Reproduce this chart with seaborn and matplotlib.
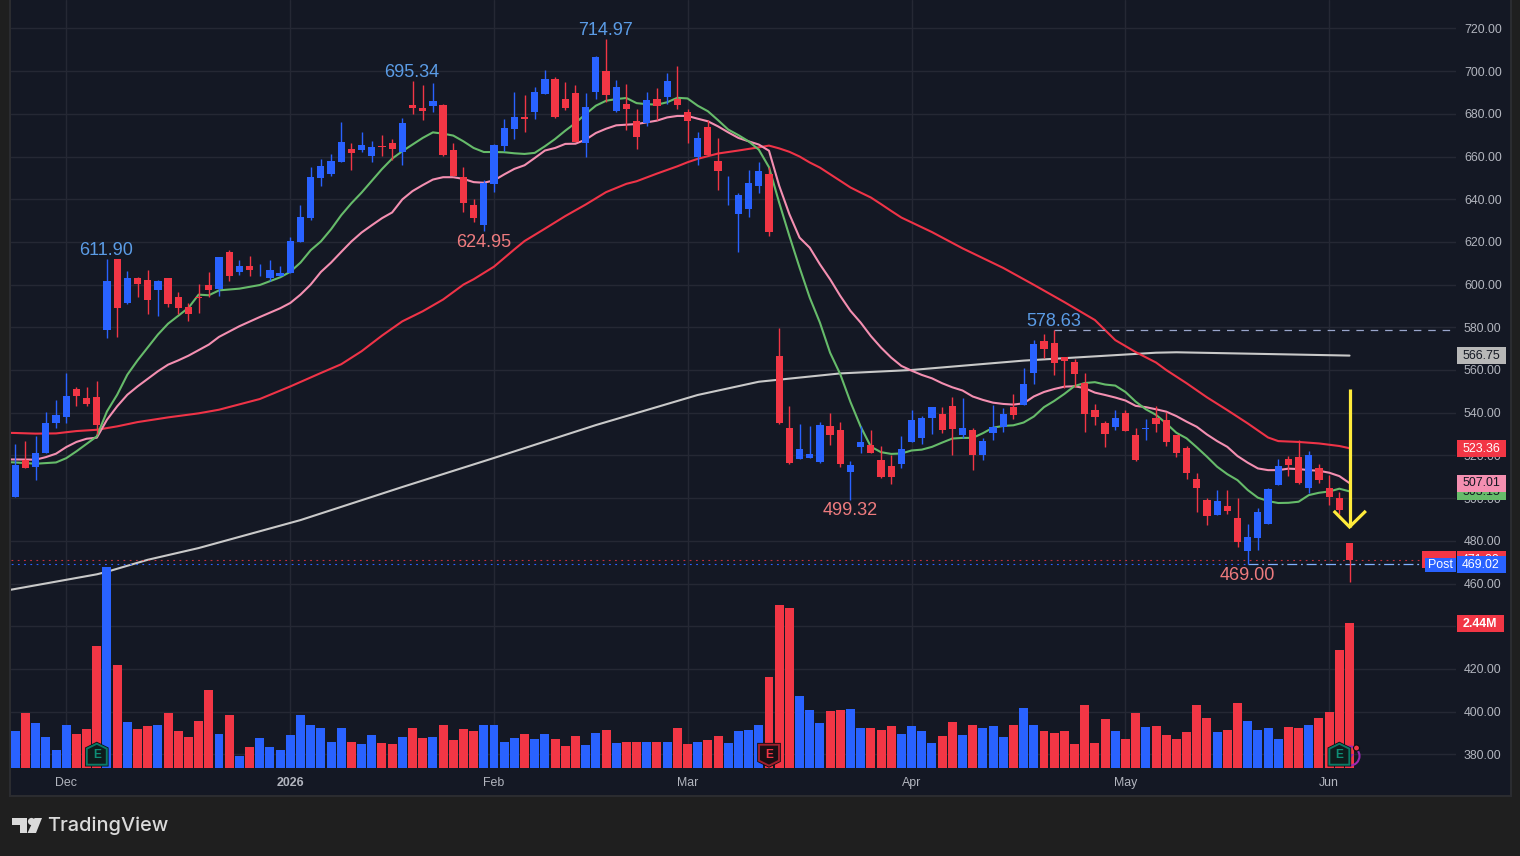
import matplotlib
matplotlib.use("Agg")
import matplotlib.pyplot as plt
from matplotlib.patches import Polygon, Rectangle, Circle
from matplotlib.transforms import IdentityTransform
import numpy as np
import pandas as pd
import seaborn as sns

# Daily sessions, oldest first
opens = [500.6,518.0,514.7,521.3,535.3,538.1,551.3,547.0,547.5,578.9,
         611.9,591.6,603.3,602.3,597.7,603.3,594.4,589.7,594.4,600.0,
         598.1,615.5,606.1,608.9,604.4,603.3,603.8,605.6,619.8,631.1,
         649.8,651.7,657.3,663.4,663.0,660.2,665.1,666.2,662.3,684.3,
         682.9,683.8,684.3,663.2,650.2,637.1,627.7,646.9,665.1,673.0,
         678.7,681.0,689.4,696.4,687.1,689.9,666.5,690.3,700.2,681.5,
         684.7,676.8,675.9,687.1,688.0,687.1,681.0,660.0,674.0,658.1,
         646.1,632.9,635.2,646.0,652.0,566.6,532.9,518.4,518.8,517.0,
         533.8,532.0,512.3,524.0,524.9,517.9,515.1,516.0,526.3,528.2,
         537.6,539.4,543.2,529.6,532.0,520.2,530.5,533.4,542.7,543.7,
         558.6,573.6,572.7,566.1,563.8,553.9,541.3,535.2,533.4,539.9,
         529.6,532.4,537.6,536.6,529.5,523.4,508.9,499.1,492.0,496.3,
         490.6,475.2,481.3,487.8,506.1,518.3,519.2,504.7,514.0,504.7,
         500.0,478.9]
highs = [525.5,526.9,529.2,540.5,546.1,558.8,552.2,552.2,555.0,611.9,
         611.9,606.6,603.7,607.0,602.3,603.3,596.7,591.6,600.5,606.1,
         613.1,616.4,611.3,613.6,609.8,611.3,608.9,622.5,637.2,655.0,
         658.8,661.1,676.1,666.3,671.4,667.2,670.0,668.0,678.2,695.34,
         693.6,694.5,684.7,666.5,655.3,640.3,648.8,666.0,677.7,690.3,
         688.9,692.7,700.6,697.4,695.0,693.6,689.9,707.2,714.97,696.0,
         694.1,682.4,690.3,692.2,699.2,702.5,682.4,671.7,677.3,668.8,
         651.1,642.7,653.9,657.6,655.3,579.7,543.2,534.8,533.8,535.7,
         539.9,535.7,517.4,533.8,532.0,524.5,520.2,529.1,541.3,538.5,
         542.7,542.7,547.4,546.9,532.9,528.2,543.7,542.2,548.8,561.0,
         574.1,576.9,578.63,566.1,565.2,558.6,544.1,536.2,541.3,541.3,
         532.9,537.1,543.2,540.3,529.5,524.4,511.7,500.0,503.8,503.8,
         500.0,487.8,495.3,504.7,518.3,519.7,527.2,522.0,515.9,510.8,
         502.8,478.9]
lows = [500.3,513.9,508.6,521.3,533.0,535.3,543.3,543.3,530.2,575.2,
        575.6,591.1,594.4,586.4,585.5,589.7,586.0,583.1,586.9,594.4,
        594.8,601.9,604.7,604.2,603.8,601.9,603.8,605.6,619.8,630.2,
        646.1,650.8,657.3,653.6,662.0,657.3,660.4,658.2,656.2,680.1,
        677.3,681.0,660.4,651.1,633.8,629.1,624.95,643.6,662.8,668.4,
        671.7,677.7,689.4,678.2,681.9,667.0,660.0,687.1,685.7,681.0,
        672.6,663.7,674.5,677.3,684.7,682.4,666.5,655.8,660.4,644.5,
        637.5,615.1,631.5,643.1,622.6,534.8,516.0,518.4,518.8,516.5,
        524.9,514.6,499.32,521.2,521.2,509.5,506.7,514.2,526.3,525.4,
        530.1,530.5,520.2,528.2,513.2,517.9,527.3,531.0,537.1,543.7,
        553.5,565.6,557.7,551.6,552.0,531.0,534.3,524.0,532.0,531.5,
        517.4,527.3,531.0,524.4,519.2,508.9,493.4,487.3,492.0,492.5,
        477.0,469.00,475.6,487.8,506.1,510.3,506.6,502.3,507.0,496.7,
        492.5,460.6]
closes = [515.5,514.2,521.3,535.3,539.0,548.0,548.0,544.2,534.1,601.9,
          589.2,603.3,600.5,593.0,601.9,591.1,589.2,586.0,593.9,597.7,
          613.1,603.8,608.9,607.0,604.7,607.0,605.2,620.2,631.6,650.3,
          655.5,657.8,666.7,661.6,665.3,664.4,664.6,663.3,675.9,682.9,
          681.5,686.1,660.9,651.1,638.0,631.0,647.7,665.6,673.5,678.7,
          677.7,690.3,696.4,678.7,682.9,667.0,683.3,706.7,688.9,692.7,
          682.4,669.3,686.6,683.8,695.5,684.3,676.8,668.8,660.9,653.4,
          646.4,642.2,647.4,653.0,624.5,535.2,516.5,523.1,520.7,534.3,
          529.6,516.0,515.6,526.3,521.2,510.0,510.0,523.1,536.6,537.6,
          542.7,532.0,532.4,532.9,520.2,526.8,533.4,539.4,539.0,553.5,
          572.2,569.9,563.3,564.2,558.2,539.4,538.0,530.1,537.6,531.5,
          517.9,532.9,534.8,526.3,521.1,511.7,504.7,491.6,498.6,493.9,
          479.4,481.7,493.4,504.2,515.0,515.5,507.0,520.2,508.4,500.5,
          494.4,471.0]
# Share volume in millions
volumes = [0.63,0.92,0.75,0.52,0.30,0.72,0.57,0.65,2.06,3.38,
           1.74,0.77,0.65,0.70,0.72,0.92,0.63,0.52,0.79,1.32,
           0.58,0.90,0.21,0.36,0.50,0.35,0.30,0.55,0.90,0.72,
           0.67,0.43,0.67,0.43,0.40,0.55,0.42,0.40,0.53,0.67,
           0.50,0.53,0.73,0.47,0.65,0.63,0.73,0.72,0.44,0.50,
           0.57,0.49,0.57,0.49,0.37,0.54,0.39,0.59,0.64,0.42,
           0.44,0.44,0.44,0.44,0.44,0.67,0.40,0.44,0.47,0.54,
           0.42,0.62,0.64,0.72,1.53,2.74,2.69,1.21,0.98,0.76,
           0.96,0.98,0.99,0.67,0.67,0.64,0.71,0.57,0.71,0.62,
           0.42,0.54,0.77,0.56,0.72,0.67,0.71,0.52,0.72,1.01,
           0.72,0.62,0.59,0.62,0.40,1.06,0.42,0.82,0.62,0.49,
           0.93,0.69,0.71,0.56,0.49,0.61,1.06,0.84,0.61,0.64,
           1.09,0.79,0.64,0.67,0.49,0.69,0.67,0.72,0.84,0.94,1.99,2.44]

# Moving averages, sampled at the sessions where they bend
fast_bars = [-1,0,2,4,5,6,8,9,10,11,12,14,15,17,18,19,20,22,24,26,27,28,29,30,31,32,33,34,35,36,37,38,39,40,41,42,43,44,45,46,47,48,49,50,51,52,53,54,55,56,57,58,59,60,61,62,63,64,65,66,67,68,69,70,71,72,73,74,75,76,77,78,79,80,81,82,83,84,85,86,87,88,89,90,91,92,93,94,95,96,97,98,99,100,101,102,103,104,105,106,107,108,109,110,111,112,113,114,115,116,117,118,119,120,121,122,123,124,125,126,127,128,129,130,131]
fast_vals = [516.9,516.7,516.1,516.7,518.7,521.9,528.9,540.6,548.4,557.8,564.5,576.6,581.7,589.1,595.3,595.0,597.3,598.1,599.8,603.4,606.0,610.3,616.1,620.2,625.9,632.5,638.1,643.1,648.6,654.1,659.0,662.5,665.6,668.7,671.3,670.7,669.8,667.1,664.0,662.1,662.1,662.0,661.5,661.2,661.7,664.8,668.2,672.1,675.7,679.9,683.8,686.1,686.9,687.4,685.0,684.5,684.3,685.4,687.5,687.2,683.8,681.2,677.0,672.6,670.0,667.1,663.2,655.0,638.4,622.8,608.0,593.9,582.2,568.1,558.0,545.0,533.5,524.1,521.5,520.7,520.9,522.3,522.7,524.0,526.0,527.9,528.2,528.2,530.4,533.0,533.8,534.1,535.4,538.2,542.6,545.5,548.8,552.5,553.9,554.3,553.2,552.7,549.7,545.2,541.6,539.0,535.0,530.6,528.0,523.8,519.4,514.7,511.2,508.4,503.8,500.2,498.6,497.7,497.8,498.3,501.4,502.5,503.1,504.4,503.15]

mid_bars = [-1,0,2,3,4,5,6,7,8,9,10,11,12,14,15,16,17,19,20,22,24,26,27,28,29,30,31,32,33,34,35,36,37,38,39,40,41,42,43,44,45,46,47,48,49,50,51,52,53,54,55,56,57,58,59,60,61,62,63,64,65,66,67,68,69,70,71,72,73,74,75,76,77,78,79,80,81,82,83,84,85,86,87,88,89,90,91,92,93,94,95,96,97,98,99,100,101,102,103,104,105,106,107,108,109,110,111,112,113,114,115,116,117,118,119,120,121,122,123,124,125,126,127,128,129,130,131]
mid_vals = [518.1,518.1,518.0,519.2,520.8,523.9,526.3,527.8,528.3,536.7,543.0,548.4,552.3,559.4,562.5,564.5,566.7,571.9,575.5,580.5,584.8,588.9,591.4,595.3,600.0,605.9,610.3,615.3,620.2,624.4,627.8,631.1,633.8,639.9,643.8,646.6,649.2,650.3,650.3,649.5,648.0,647.7,648.8,651.6,654.2,655.9,659.3,662.8,664.0,665.9,666.0,667.9,671.0,673.0,674.6,674.9,675.2,676.0,676.8,678.3,679.0,679.0,677.7,676.5,674.1,671.3,668.7,667.1,665.6,662.7,646.3,633.0,622.0,617.3,609.5,602.5,594.7,587.7,582.2,575.9,570.5,565.8,561.9,559.7,557.7,556.1,553.8,551.9,550.4,547.6,546.0,544.7,544.1,543.8,544.4,547.6,549.7,551.1,552.2,552.4,551.5,549.4,548.3,547.1,545.7,543.2,542.6,541.6,540.5,538.4,535.8,533.4,529.8,526.7,524.0,519.7,516.6,513.9,513.1,513.1,513.8,513.6,513.1,512.8,511.9,510.3,507.01]

slow_bars = [-1,0,2,4,6,8,10,12,15,18,20,24,27,30,32,34,36,38,40,42,44,45,47,49,50,52,54,56,58,60,61,63,65,66,67,69,71,73,74,75,76,77,78,79,80,81,82,83,84,85,86,87,90,93,97,100,103,106,108,110,112,113,115,117,119,121,123,124,126,128,130,131]
slow_vals = [530.6,530.5,530.2,530.3,531.4,532.0,533.6,535.6,537.8,539.7,541.4,546.4,552.3,558.6,562.7,568.8,576.1,582.8,587.5,593.0,600.0,602.5,608.4,616.5,620.4,626.2,632.1,637.5,643.3,647.2,648.4,652.0,655.4,657.3,658.9,661.4,662.8,664.3,665.1,663.8,662.2,660.0,657.2,654.8,651.7,648.6,645.5,643.1,640.8,637.7,634.5,631.4,624.6,617.0,607.8,599.9,591.8,583.4,574.0,568.4,563.5,560.0,553.8,547.2,541.2,535.0,528.4,526.7,526.3,525.6,524.4,523.36]

long_bars = [-1,8,9,13,18,28,38,47,57,67,73,81,88,99,112,114,131]
long_vals = [456.6,464.3,465.5,471.1,476.6,489.7,505.2,518.8,534.2,548.3,554.5,558.4,560.0,564.4,568.1,568.3,566.75]

# Month boundaries on the session axis
month_bars = [5,27,47,66,88,109,129]
month_labels = ["Dec","2026","Feb","Mar","Apr","May","Jun"]

price_ticks = list(range(380,721,20))

# Swing highs and lows called out on the chart
swing_highs = [(9,611.90),(39,695.34),(58,714.97),(102,578.63)]
swing_lows = [(46,624.95),(82,499.32),(121,469.00)]

earnings_bars = [8,74,130]
earnings_beat = [True,False,True]

post_price = 469.02

PANEL = "#141824"
OUTER = "#1f1f1f"
EDGE = "#2b2c30"
GRID = "#252834"
UP = "#2962FF"
DOWN = "#F23645"
TICK = "#B2B5BE"
FONT = ["Liberation Sans","DejaVu Sans"]
HI_LABEL = "#5B9CE6"
LO_LABEL = "#EE7B7E"

W, H = 1520, 856
sns.set_theme(style="darkgrid", rc={"axes.facecolor":PANEL,"figure.facecolor":OUTER,"grid.color":GRID})
plt.rcParams["font.family"] = FONT

frame = pd.DataFrame({"bar":np.arange(len(closes)),"open":opens,"high":highs,"low":lows,"close":closes,"volume":volumes})
frame["side"] = np.where(frame["close"]>=frame["open"],"up","down")
palette = {"up":UP,"down":DOWN}

fig = plt.figure(figsize=(W/100,H/100),dpi=100,facecolor=OUTER)
pix = IdentityTransform()

def py(y):
    return H-y

# Panel frame behind the axes
fig.patches.append(Rectangle((9,py(797)),1503,798,transform=pix,fc=EDGE,ec="none",figure=fig,zorder=-2))
fig.patches.append(Rectangle((11,py(795)),1498.5,796,transform=pix,fc=PANEL,ec="none",figure=fig,zorder=-1))

left,right,bottom,top = 10.5,1456,768,0
rect = [left/W,py(bottom)/H,(right-left)/W,(bottom-top)/H]
ax = fig.add_axes(rect,zorder=1)
ax_vol = fig.add_axes(rect,zorder=2,sharex=ax)
ax.patch.set_visible(False)
ax_vol.patch.set_visible(False)

# Moving averages underneath the candles
for bars,vals,color,z in [(long_bars,long_vals,"#C9C9C9",2),(slow_bars,slow_vals,"#EF3347",2.1),
                          (mid_bars,mid_vals,"#F48FB1",2.2),(fast_bars,fast_vals,"#66BB6A",2.3)]:
    sns.lineplot(x=bars,y=vals,color=color,linewidth=1.5,estimator=None,errorbar=None,sort=False,ax=ax,zorder=z,legend=False)

# Candlesticks
wick_colors = frame["side"].map(palette)
ax.vlines(frame["bar"],frame["low"],frame["high"],colors=wick_colors,linewidth=1.0,zorder=3)
body_low = frame[["open","close"]].min(axis=1)
body_h = (frame["open"]-frame["close"]).abs()
ax.bar(frame["bar"],body_h,bottom=body_low,width=0.71,color=wick_colors,linewidth=0,zorder=3.1)

# Reference levels
last_close = closes[-1]
ax.plot([102,143],[578.63,578.63],color="#9AA6CC",lw=0.9,dashes=(6,5.5),zorder=2.5)
ax.axhline(last_close,color=DOWN,lw=0.8,alpha=0.8,dashes=(1.6,4),zorder=2.5)
ax.plot([-1,121],[post_price,post_price],color=UP,lw=0.8,dashes=(1.6,4),zorder=2.5)
ax.plot([121,139.5],[post_price,post_price],color="#7FB0FF",lw=0.9,dashes=(8,3,1.5,3),zorder=2.5)

# Volume pane shares the lower part of the same frame
sns.barplot(data=frame,x="bar",y="volume",hue="side",palette=palette,native_scale=True,dodge=False,
            width=0.88,saturation=1,legend=False,linewidth=0,ax=ax_vol)

ax.set_xlim((left-15.3)/10.185,(right-15.3)/10.185)
ax_vol.set_xlim((left-15.3)/10.185,(right-15.3)/10.185)
ax.set_ylim(380+(754.3-768)/2.135,380+754.3/2.135)
ax_vol.set_ylim(0,768*0.01683)

ax.yaxis.tick_right()
ax.set_yticks(price_ticks)
ax.set_yticklabels([f"{t:.2f}" for t in price_ticks])
ax.set_xticks(month_bars)
ax.set_xticklabels(month_labels)
ax.tick_params(axis="y",length=0,pad=5.7,labelsize=8.9,labelcolor=TICK)
ax.tick_params(axis="x",length=0,pad=6.2,labelsize=8.9,labelcolor=TICK)
for lbl in ax.get_xticklabels():
    if lbl.get_text()=="2026":
        lbl.set_fontweight("bold")
ax.grid(True,color=GRID,linewidth=1.0)
ax.set_axisbelow(True)
ax.set_xlabel("")
ax.set_ylabel("")
ax_vol.grid(False)
ax_vol.set_xlabel("")
ax_vol.set_ylabel("")
ax_vol.tick_params(left=False,bottom=False,right=False,labelleft=False,labelbottom=False)
sns.despine(ax=ax,left=True,right=True,top=True,bottom=True)
sns.despine(ax=ax_vol,left=True,right=True,top=True,bottom=True)

# Swing value call-outs
for bar,val in swing_highs:
    xp,yp = ax.transData.transform((bar,val))
    ax_vol.text(xp-0.5,yp+8.5,f"{val:.2f}",transform=pix,color=HI_LABEL,fontsize=13,ha="center",va="center",zorder=6)
for bar,val in swing_lows:
    xp,yp = ax.transData.transform((bar,val))
    ax_vol.text(xp,yp-11,f"{val:.2f}",transform=pix,color=LO_LABEL,fontsize=13,ha="center",va="center",zorder=6)

# Hand-drawn arrow over the last session
arrow = dict(color="#FFEB3B",lw=2.3,solid_capstyle="butt",solid_joinstyle="miter",zorder=7)
ax_vol_trans = ax.transData
ax_vol.plot([131,131],[551,486.5],transform=ax_vol_trans,**arrow)
ax_vol.plot([129.45,131,132.6],[494,486.5,494],transform=ax_vol_trans,**arrow)

# Price scale tags
def tag(value_y,text,face,fg,x0=1457,x1=1506,h=17,z=8,weight="normal"):
    ax_vol.add_patch(Rectangle((x0,py(value_y+h/2)),x1-x0,h,transform=pix,fc=face,ec="none",clip_on=False,zorder=z))
    ax_vol.text((x0+x1)/2-0.5,py(value_y)-0.3,text,transform=pix,color=fg,fontsize=8.9,ha="center",va="center",
                fontweight=weight,zorder=z+0.1,clip_on=False)

def price_y(p):
    return H-ax.transData.transform((0,p))[1]

tag(price_y(long_vals[-1]),f"{long_vals[-1]:.2f}","#B8B8B8","#131722")
tag(price_y(slow_vals[-1]),f"{slow_vals[-1]:.2f}",DOWN,"white")
tag(price_y(fast_vals[-1]),f"{fast_vals[-1]:.2f}","#66BB6A","#131722",z=8)
tag(price_y(mid_vals[-1]),f"{mid_vals[-1]:.2f}","#F48FB1","#131722",z=8.5)
tag(price_y(last_close)-0.3,f"{last_close:.2f}",DOWN,"white",z=9)
ax_vol.add_patch(Rectangle((1422,py(568)),34,17,transform=pix,fc=DOWN,ec="none",clip_on=False,zorder=9))
tag(price_y(post_price),f"{post_price:.2f}",UP,"white",z=9.5)
tag(price_y(post_price)+0.3,"Post",UP,"white",x0=1425,x1=1456,h=14,z=9.5)
tag(623.3,f"{volumes[-1]:.2f}M",DOWN,"white",x1=1504,weight="bold")

# Earnings badges along the volume baseline
def badge(xc,yc,beat):
    if beat:
        shape = [(-10,-6),(0,-11),(10,-6),(10,10),(-10,10)]
        edge,face,ink = "#0A7B66","#0E1C1C","#0E8F75"
    else:
        shape = [(-10,-10),(10,-10),(10,6),(0,11),(-10,6)]
        edge,face,ink = "#A2202E","#1A0F14",DOWN
    pts = [(xc+a,py(yc+b)) for a,b in shape]
    ax_vol.add_patch(Polygon(pts,closed=True,transform=pix,fc=face,ec="#0B0E12",lw=2.6,zorder=5,clip_on=False))
    ax_vol.add_patch(Polygon(pts,closed=True,transform=pix,fc=face,ec=edge,lw=1.4,zorder=5.1,clip_on=False))
    ax_vol.text(xc,py(yc)-0.5,"E",transform=pix,color=ink,fontsize=8.6,fontweight="bold",ha="center",va="center",zorder=5.2)

# Dividend marker sits behind the final badge
ax_vol.add_patch(Circle((1350,py(756)),9.5,transform=pix,fc="none",ec="#9C27B0",lw=1.5,zorder=4.8,clip_on=False))
ax_vol.add_patch(Polygon([(1351,py(750)),(1346,py(757)),(1350,py(757)),(1348,py(762)),(1354,py(754)),(1350,py(754))],
                         closed=True,transform=pix,fc="#9C27B0",ec="none",zorder=4.85))
for bar,beat in zip(earnings_bars,earnings_beat):
    xp = ax.transData.transform((bar,0))[0]
    badge(xp,754.7,beat)
ax_vol.add_patch(Circle((1356.5,py(748)),3,transform=pix,fc=DOWN,ec="#0B0E12",lw=0.8,zorder=5.5,clip_on=False))

# Wordmark in the footer
logo = "#DADADA"
fig.patches.append(Polygon([(12,py(818)),(27,py(818)),(27,py(833)),(20,py(833)),(20,py(825)),(12,py(825))],closed=True,
                           transform=pix,fc=logo,ec="none",figure=fig))
fig.patches.append(Circle((31.5,py(821.5)),3.6,transform=pix,fc=logo,ec="none",figure=fig))
fig.patches.append(Polygon([(34.5,py(818)),(42,py(818)),(36,py(833)),(27.5,py(833))],closed=True,
                           transform=pix,fc=logo,ec="none",figure=fig))
fig.text(47.5/W,py(826)/H,"TradingView",color=logo,fontsize=14.4,fontfamily="Inter",fontweight="medium",ha="left",va="center")

fig.savefig("out.png",dpi=100,facecolor=OUTER)
